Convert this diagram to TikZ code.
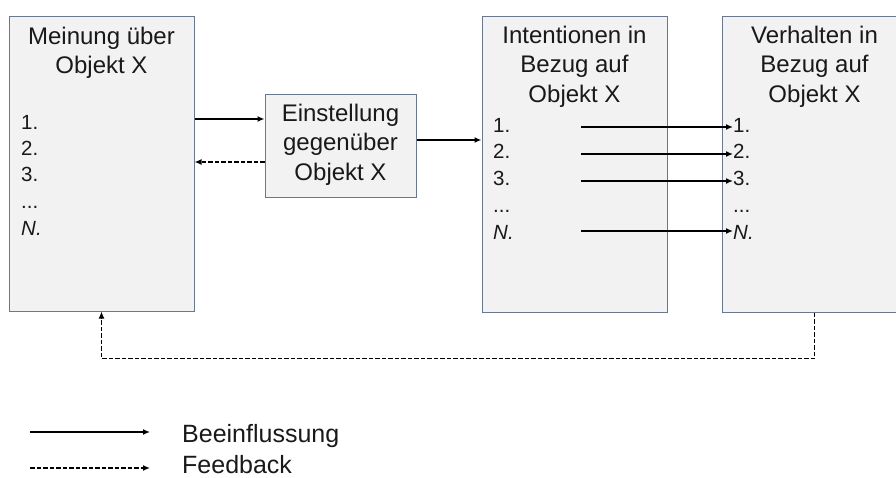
\documentclass[tikz,border=0pt]{standalone}
\usepackage{fontspec}
\setmainfont{Liberation Sans}
\usetikzlibrary{arrows.meta,shadows}
\definecolor{boxfill}{RGB}{242,242,242}
\definecolor{boxline}{RGB}{105,120,142}
\definecolor{txt}{RGB}{25,25,25}
\begin{document}
\begin{tikzpicture}[x=1pt,y=-1pt,
  panel/.style={rectangle, draw=boxline, fill=boxfill, line width=1pt, inner sep=0pt,
    drop shadow={shadow xshift=1.2pt, shadow yshift=-1.2pt, opacity=0.45, fill=black!60}},
  title/.style={font=\fontsize{24}{29.5}\selectfont, align=center, anchor=north, inner sep=0pt, text=txt},
  item/.style={font=\fontsize{20.5}{24}\selectfont, anchor=base west, inner sep=0pt, text=txt},
  legendtext/.style={font=\fontsize{25}{30}\selectfont, anchor=base west, inner sep=0pt, text=txt},
  flow/.style={line width=1.8pt, -{Latex[length=7pt,width=6pt]}},
  fb/.style={flow, dash pattern=on 4.5pt off 2pt}]
\clip (0,0) rectangle (896,477);

% panels
\node[panel, minimum width=185pt, minimum height=295pt] (box1) at (101.5,163.5) {};
\node[panel, minimum width=151pt, minimum height=103pt] (box2) at (340.5,145.5) {};
\node[panel, minimum width=185pt, minimum height=296pt] (box3) at (574.5,164) {};
\node[panel, minimum width=185pt, minimum height=296pt] (box4) at (814.5,164) {};

% headings
\node[title] (t1) at (101.5,26.8) {Meinung über\\Objekt X};
\node[title] (t2) at (340.5,103.8) {Einstellung\\gegenüber\\Objekt X};
\node[title] (t3) at (574.5,25.8) {Intentionen in\\Bezug auf\\Objekt X};
\node[title] (t4) at (814.5,25.8) {Verhalten in\\Bezug auf\\Objekt X};

% numbered lists
\node[item] (i11) at (21,129) {1.};
\node[item] (i12) at (21,155) {2.};
\node[item] (i13) at (21,181) {3.};
\node[item] (i14) at (21,208) {...};
\node[item] (i15) at (21,235) {\itshape N.};

\node[item] (i31) at (493,132) {1.};
\node[item] (i32) at (493,158) {2.};
\node[item] (i33) at (493,185) {3.};
\node[item] (i34) at (493,212) {...};
\node[item] (i35) at (493,239) {\itshape N.};

\node[item] (i41) at (733,132) {1.};
\node[item] (i42) at (733,158) {2.};
\node[item] (i43) at (733,185) {3.};
\node[item] (i44) at (733,212) {...};
\node[item] (i45) at (733,239) {\itshape N.};

% connectors between panels
\coordinate (ya) at (0,119);
\coordinate (yb) at (0,162);
\coordinate (yc) at (0,140);
\draw[flow] (box1.east |- ya) -- (box2.west |- ya);
\draw[fb] (box2.west |- yb) -- (box1.east |- yb);
\draw[flow] (box2.east |- yc) -- (box3.west |- yc);

% item-wise influence from intentions to behaviour
\coordinate (s1) at (581,127);
\coordinate (s2) at (581,154);
\coordinate (s3) at (581,181);
\coordinate (s5) at (581,231);
\draw[flow] (s1) -- (s1 -| i41.west);
\draw[flow] (s2) -- (s2 -| i42.west);
\draw[flow] (s3) -- (s3 -| i43.west);
\draw[flow] (s5) -- (s5 -| i45.west);

% feedback loop
\draw[fb] (box4.south) -- ++(0,46) -| (box1.south);

% legend
\coordinate (la) at (30,432);
\coordinate (lb) at (150,432);
\coordinate (lc) at (30,468);
\coordinate (ld) at (150,468);
\draw[flow] (la) -- (lb);
\draw[fb] (lc) -- (ld);
\node[legendtext] (lt1) at (182,442) {Beeinflussung};
\node[legendtext] (lt2) at (182,473) {Feedback};
\end{tikzpicture}
\end{document}
